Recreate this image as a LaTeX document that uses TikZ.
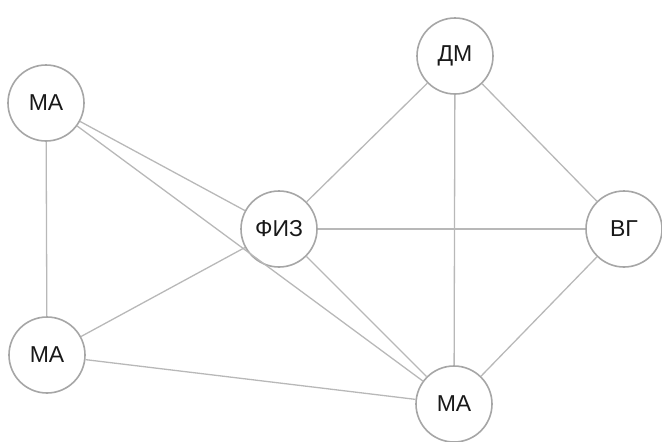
\documentclass[tikz,border=0pt]{standalone}
\usepackage{fontspec}
\setmainfont{Liberation Sans}
\begin{document}
\begin{tikzpicture}[x=1pt,y=-1pt,
  vert/.style={circle,draw=black!35,line width=1.6pt,fill=white,minimum size=76pt,inner sep=0pt,font=\fontsize{23}{26}\selectfont,text=black!90},
  edge/.style={draw=black!28,line width=1.3pt}]
\useasboundingbox (0,0) rectangle (662,442);
\node[vert] (ma1) at (46,103) {МА};
\node[vert] (dm) at (455,56) {ДМ};
\node[vert] (fiz) at (279,229) {ФИЗ};
\node[vert] (vg) at (624,229) {ВГ};
\node[vert] (ma2) at (47,355) {МА};
\node[vert] (ma3) at (454,404) {МА};
\draw[edge] (ma1) -- (ma2);
\draw[edge] (ma1) -- (fiz);
\draw[edge] (ma1) -- (ma3);
\draw[edge] (ma2) -- (fiz);
\draw[edge] (ma2) -- (ma3);
\draw[edge] (fiz) -- (dm);
\draw[edge] (fiz) -- (vg);
\draw[edge] (fiz) -- (ma3);
\draw[edge] (dm) -- (ma3);
\draw[edge] (dm) -- (vg);
\draw[edge] (vg) -- (ma3);
\end{tikzpicture}
\end{document}
